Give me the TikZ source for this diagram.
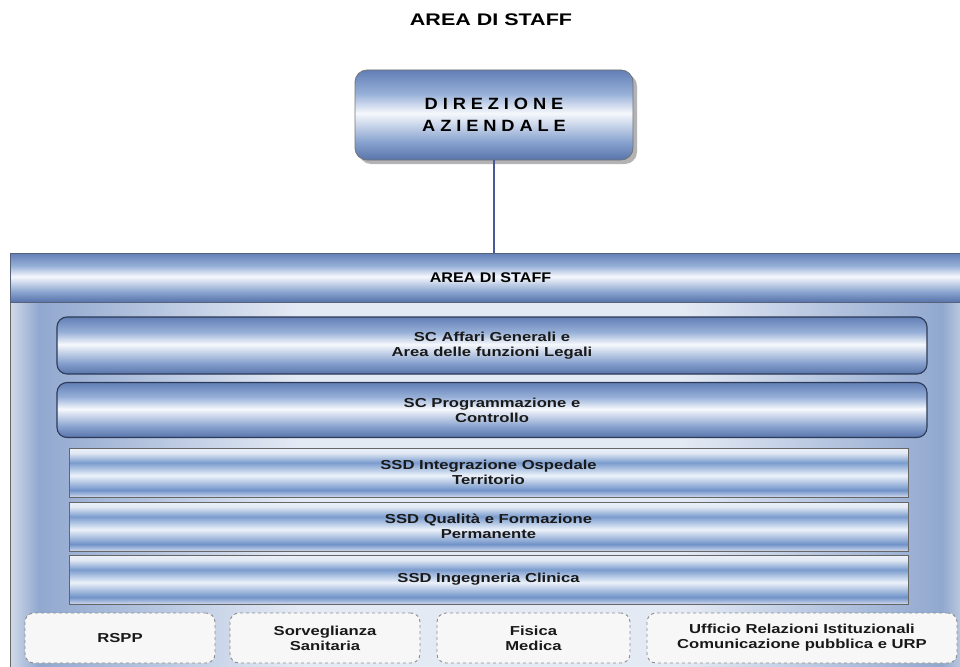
\documentclass[tikz,border=0pt]{standalone}
\usepackage{fontspec}
\setmainfont{Liberation Sans}[FakeStretch=1.28]
\newfontfamily\hdrfont{Liberation Sans}[FakeStretch=1.15]
\newfontfamily\dirfont{Liberation Sans}[FakeStretch=1.12,LetterSpace=30]
\usetikzlibrary{shadows}
\definecolor{gA}{RGB}{88,116,170}
\definecolor{gB}{RGB}{135,162,206}
\definecolor{gW}{RGB}{246,248,252}
\definecolor{gC}{RGB}{150,175,215}
\definecolor{gD}{RGB}{98,127,182}
\definecolor{sA}{RGB}{205,216,235}
\definecolor{sB}{RGB}{112,146,200}
\definecolor{sW}{RGB}{236,242,250}
\definecolor{sC}{RGB}{122,156,206}
\definecolor{sD}{RGB}{226,233,243}
\definecolor{bE}{RGB}{210,218,232}
\definecolor{bB}{RGB}{145,168,207}
\definecolor{bM}{RGB}{228,234,244}
\definecolor{navy}{RGB}{45,58,88}
\definecolor{lineblue}{RGB}{72,88,155}
\pgfdeclareverticalshading{gloss}{100bp}{color(0bp)=(gA); color(25bp)=(gA); color(35bp)=(gB); color(51bp)=(gW); color(62bp)=(gC); color(75bp)=(gD); color(100bp)=(gD)}
\pgfdeclareverticalshading{ssdgloss}{100bp}{color(0bp)=(sA); color(25bp)=(sA); color(32bp)=(sB); color(47bp)=(sW); color(60bp)=(sC); color(70bp)=(sD); color(75bp)=(sW); color(100bp)=(sW)}
\pgfdeclarehorizontalshading{bodyshade}{100bp}{color(0bp)=(bE); color(25bp)=(bE); color(26.5bp)=(bB); color(40bp)=(bM); color(60bp)=(bM); color(73.5bp)=(bB); color(75bp)=(bE); color(100bp)=(bE)}
\tikzset{
  txt/.style={font=\bfseries\fontsize{13}{15}\selectfont, align=center, text=black!90},
  scbox/.style={txt, shading=gloss, draw=navy, line width=1.1pt, rounded corners=10pt, inner sep=0pt},
  ssdbox/.style={txt, shading=ssdgloss, draw=black!60, line width=1pt, inner sep=0pt},
  dashbox/.style={txt, fill=black!3, draw=black!45, dashed, line width=0.9pt, rounded corners=9pt, inner sep=0pt},
  conn/.style={draw=lineblue, line width=1.3pt}
}
\begin{document}
\begin{tikzpicture}[x=1pt,y=-1pt]
\useasboundingbox (0,0) rectangle (960,666);
\node[font=\bfseries\fontsize{16.8}{20}\selectfont] (title) at (491,20) {AREA DI STAFF};
\node[shading=gloss, draw=black!55, line width=0.8pt, rounded corners=12pt, minimum width=278pt, minimum height=90pt, inner sep=0pt, align=center,
  font=\dirfont\bfseries\fontsize{16.3}{22}\selectfont,
  drop shadow={shadow xshift=4pt, shadow yshift=-4pt, fill=black!50, opacity=.6}] (dir) at (494,115) {DIREZIONE\\AZIENDALE};
\node[shading=bodyshade, draw=black!60, line width=1pt, minimum width=961pt, minimum height=427pt, inner sep=0pt] (staff) at (490.5,466.5) {};
\node[shading=gloss, draw=navy!80, line width=1pt, minimum width=961pt, minimum height=49pt, inner sep=0pt,
  font=\hdrfont\bfseries\fontsize{14}{16}\selectfont] (hdr) at (490.5,277.5) {AREA DI STAFF};
\draw[conn] (dir.south) -- (dir.south |- hdr.north);
\node[scbox, minimum width=870pt, minimum height=57pt] (scA) at (492,345.5) {SC Affari Generali e\\Area delle funzioni Legali};
\node[scbox, minimum width=870pt, minimum height=55pt] (scB) at (492,410) {SC Programmazione e\\Controllo};
\node[ssdbox, minimum width=839pt, minimum height=49pt] (ssdA) at (488.5,472.5) {SSD Integrazione Ospedale\\Territorio};
\node[ssdbox, minimum width=839pt, minimum height=49pt] (ssdB) at (488.5,526.5) {SSD Qualità e Formazione\\Permanente};
\node[ssdbox, minimum width=839pt, minimum height=49pt] (ssdC) at (488.5,579.5) {SSD Ingegneria Clinica};
\node[dashbox, minimum width=190pt, minimum height=50pt] (rspp) at (120,638) {RSPP};
\node[dashbox, minimum width=190pt, minimum height=50pt] (sorv) at (325,638) {Sorveglianza\\Sanitaria};
\node[dashbox, minimum width=193pt, minimum height=50pt] (fis) at (533.5,638) {Fisica\\Medica};
\node[dashbox, minimum width=310pt, minimum height=50pt] (urp) at (802,638) {Ufficio Relazioni Istituzionali\\Comunicazione pubblica e URP};
\end{tikzpicture}
\end{document}
